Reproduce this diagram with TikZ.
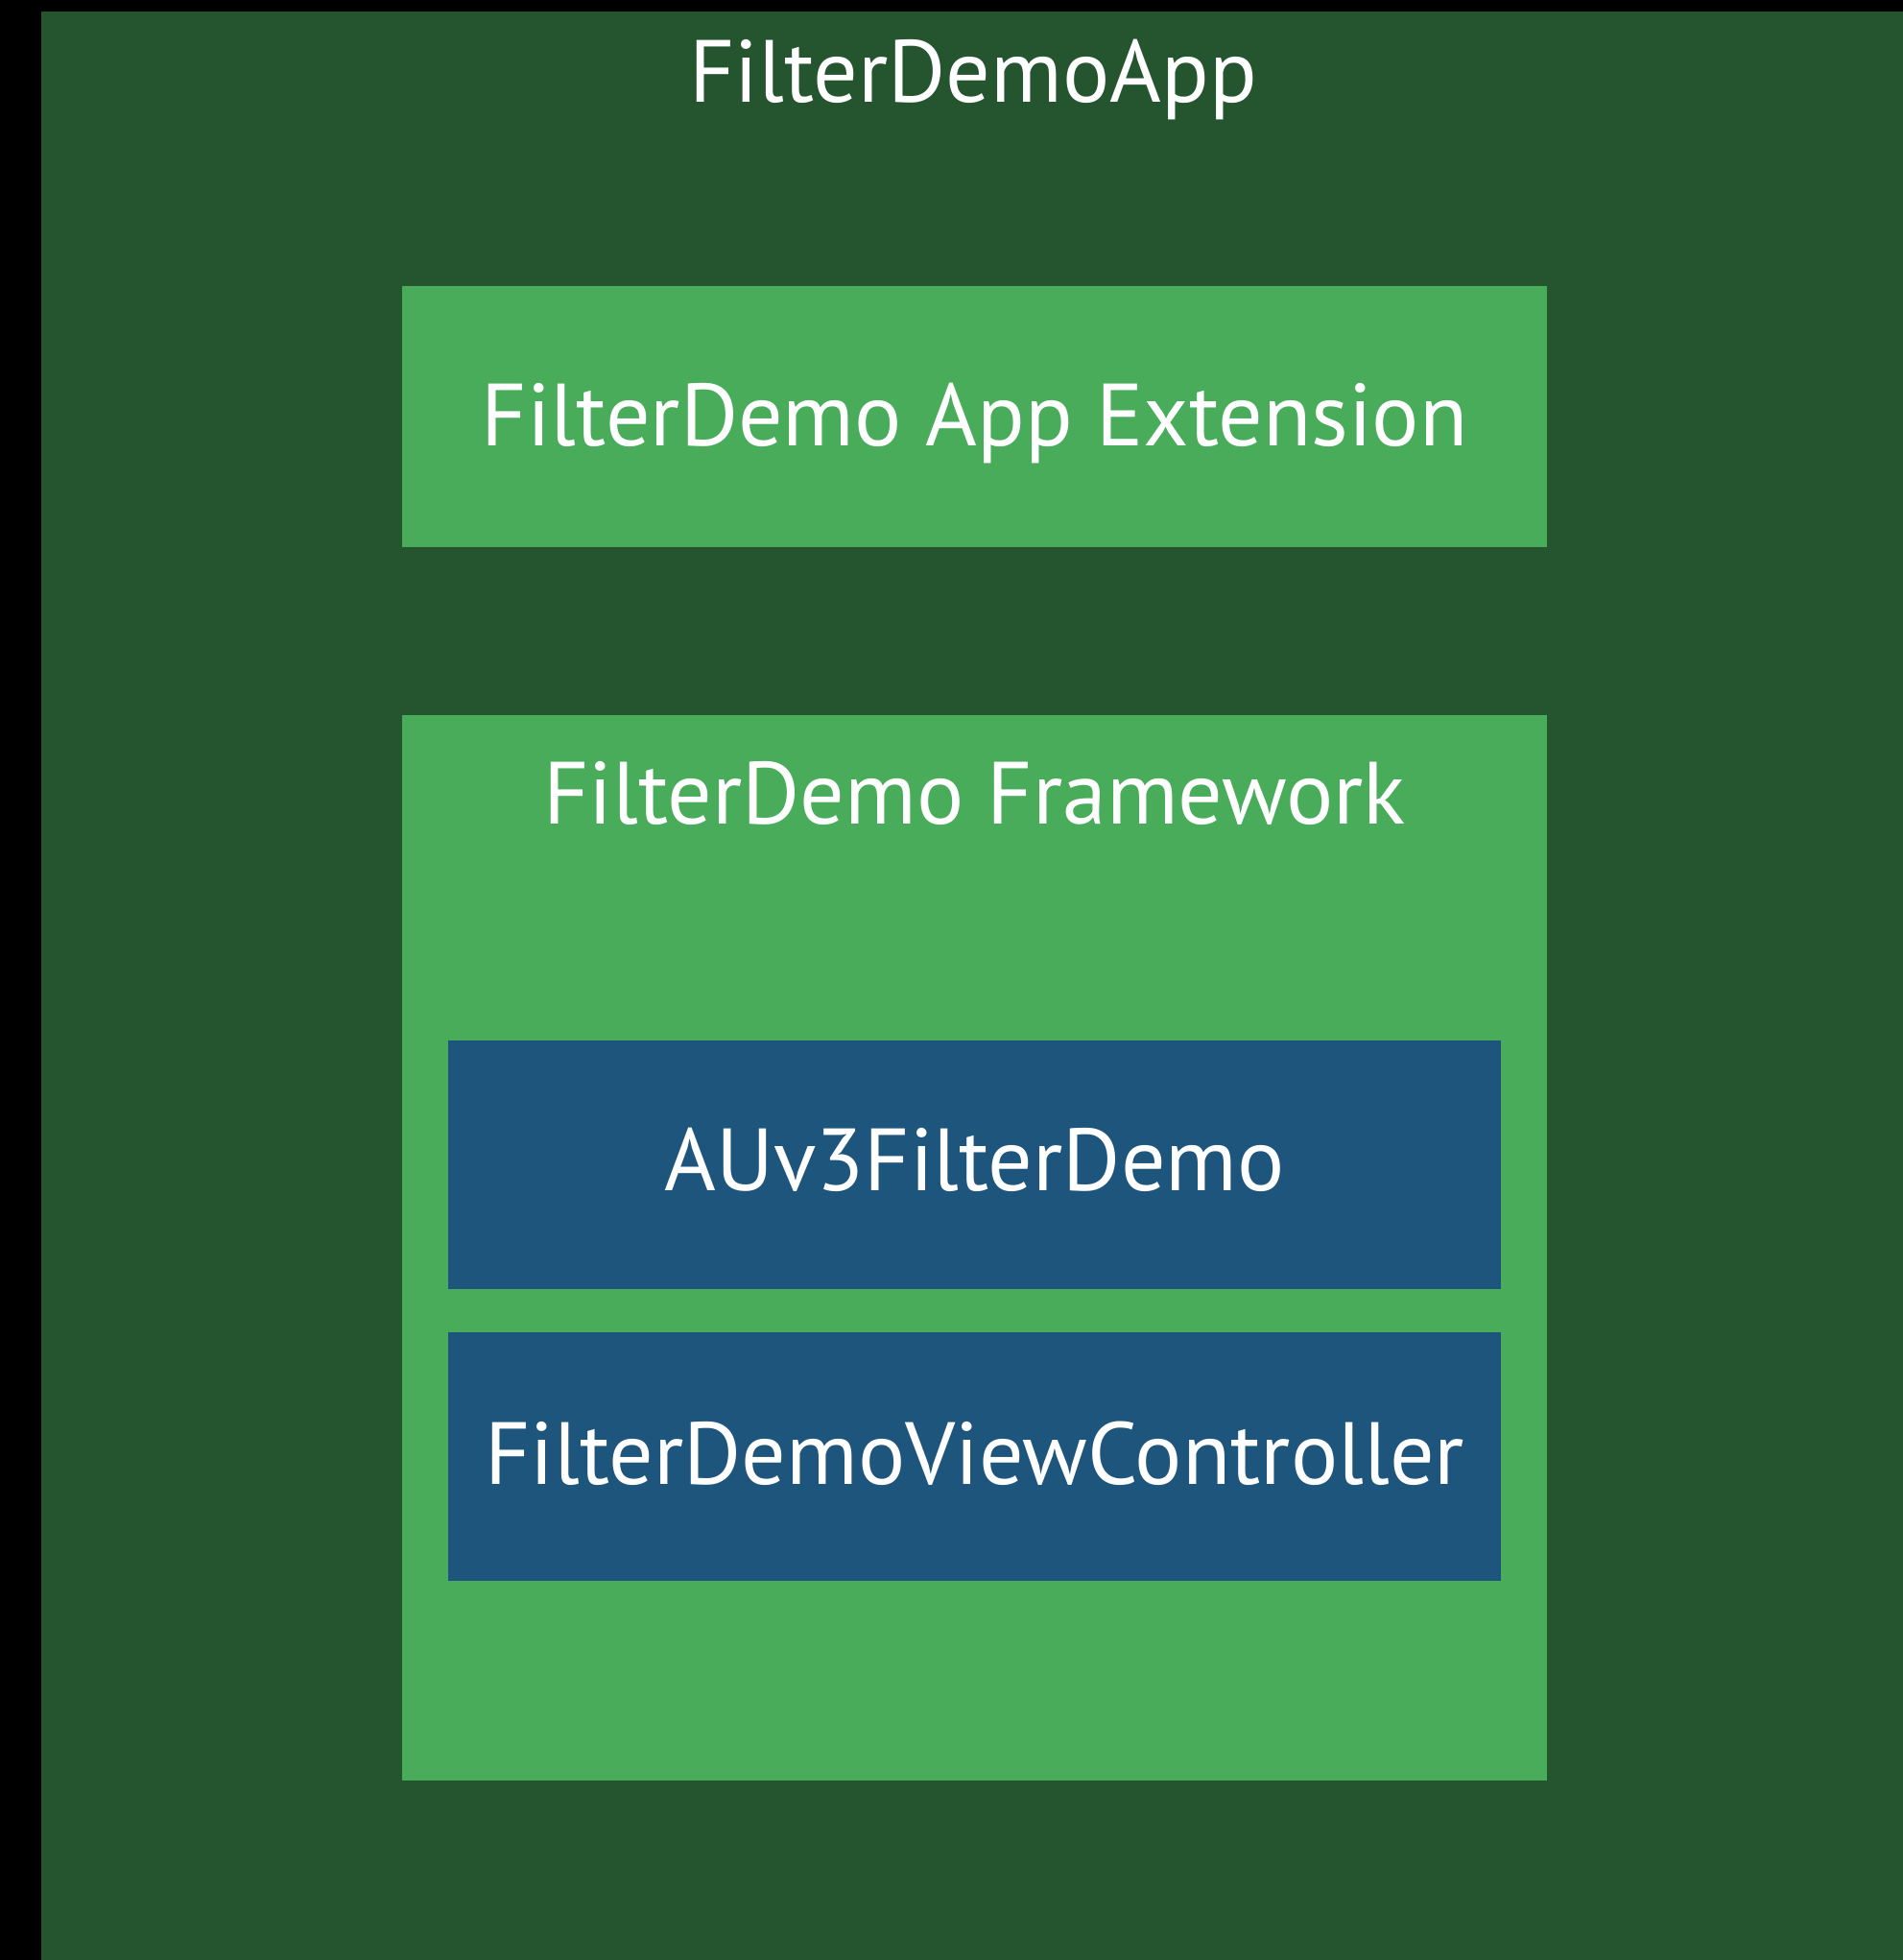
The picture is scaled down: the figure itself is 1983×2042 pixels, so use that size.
\documentclass[tikz,border=0pt]{standalone}
\usepackage{fontspec}
\setmainfont{PT Sans}
\definecolor{appgreen}{RGB}{36,85,46}
\definecolor{boxgreen}{RGB}{73,172,91}
\definecolor{classblue}{RGB}{30,85,125}
\tikzset{
  panel/.style={rectangle, inner sep=0pt, outer sep=0pt, draw=none},
  lbl/.style={text=white, inner sep=0pt, outer sep=0pt, anchor=base,
    font=\fontsize{92}{106}\selectfont}
}
\begin{document}
\begin{tikzpicture}[x=1pt,y=-1pt]
  \useasboundingbox (0,0) rectangle (1983,2042);
  \fill[black] (0,0) rectangle (1983,2042);
  % application container
  \node[panel, fill=appgreen, minimum width=1940pt, minimum height=2030pt] (app) at (1013,1027) {};
  \node[lbl] (appname) at (1014,106) {FilterDemoApp};
  % app extension
  \node[panel, fill=boxgreen, minimum width=1193pt, minimum height=272pt] (ext) at (1015.5,434) {};
  \node[lbl] (extname) at (1015.5,464) {FilterDemo App Extension};
  % framework
  \node[panel, fill=boxgreen, minimum width=1193pt, minimum height=1110pt] (fw) at (1015.5,1300) {};
  \node[lbl] (fwname) at (1015.5,858) {FilterDemo Framework};
  % classes inside the framework
  \node[panel, fill=classblue, minimum width=1097pt, minimum height=259pt] (au) at (1015.5,1213.5) {};
  \node[lbl] (auname) at (1015.5,1240) {AUv3FilterDemo};
  \node[panel, fill=classblue, minimum width=1097pt, minimum height=259pt] (vc) at (1015.5,1517.5) {};
  \node[lbl] (vcname) at (1015.5,1546) {FilterDemoViewController};
\end{tikzpicture}
\end{document}
